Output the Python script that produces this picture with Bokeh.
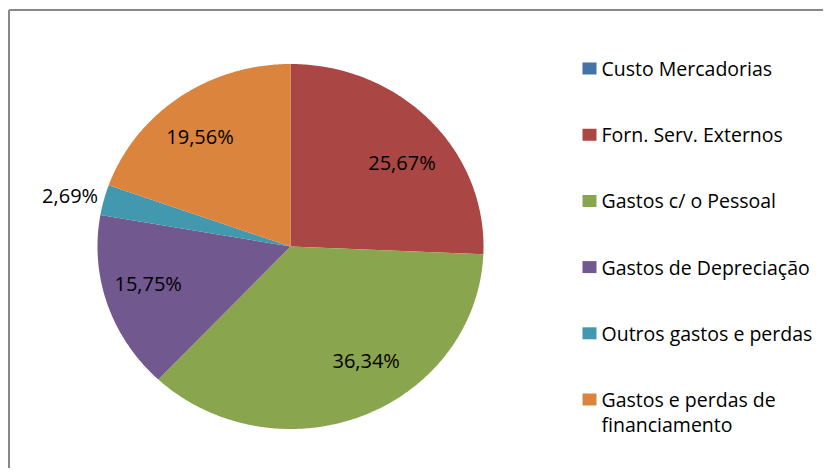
import textwrap
import numpy as np
from bokeh.plotting import figure
from bokeh.models import Range1d
from bokeh.core.properties import value
from bokeh.embed import file_html
from bokeh.resources import INLINE

# ---- data ----
categories = ["Custo Mercadorias", "Forn. Serv. Externos", "Gastos c/ o Pessoal",
              "Gastos de Depreciação", "Outros gastos e perdas",
              "Gastos e perdas de financiamento"]
shares = [0.00, 25.67, 36.34, 15.75, 2.69, 19.56]
labels = ["", "25,67%", "36,34%", "15,75%", "2,69%", "19,56%"]

# ---- style ----
colors = ["#4572A7", "#AA4643", "#89A54E", "#71588F", "#4198AF", "#DB843D"]
label_radius = [0.75, 0.75, 0.75, 0.75, 1.17, 0.75]
label_nudge = [(0, 0), (7, -11), (21, 13), (-5, 6), (-2, -3), (-7, -2)]
FONT = "Open Sans"

W, H = 823, 468
p = figure(width=W, height=H, output_backend="svg", toolbar_location=None,
           x_range=Range1d(0, W), y_range=Range1d(0, H), min_border=0)
p.axis.visible = False
p.grid.visible = False
p.outline_line_color = None
p.background_fill_color = "white"
p.border_fill_color = "white"

# chart-area frame (only its top and left edges fall inside the crop)
fx, fy = 8.5, H - 9.5
p.segment(x0=[fx, fx], y0=[-5, fy], x1=[fx, W + 5], y1=[fy, fy],
          line_color="#878787", line_width=2)

# pie (slightly elliptical, as in the reference)
cx, cy, rx, ry = 290, 222, 193, 182.5
vals = np.array(shares, dtype=float)
fr = vals / vals.sum()
ends = np.pi / 2 - 2 * np.pi * np.cumsum(fr)
starts = np.concatenate([[np.pi / 2], ends[:-1]])
xs, ys = [], []
for a0, a1 in zip(starts, ends):
    n = max(2, int(abs(a0 - a1) * 90))
    t = np.linspace(a0, a1, n)
    xs.append(np.concatenate([[cx], cx + rx * np.cos(t), [cx]]))
    ys.append(np.concatenate([[cy], cy + ry * np.sin(t), [cy]]))
keep = [i for i in range(len(vals)) if vals[i] > 0]
p.patches(xs=[xs[i] for i in keep], ys=[ys[i] for i in keep],
          fill_color=[colors[i] for i in keep], line_color=None)

# data labels
mids = (starts + ends) / 2
lx, ly, lt = [], [], []
for i in keep:
    lx.append(cx + label_radius[i] * rx * np.cos(mids[i]) + label_nudge[i][0])
    ly.append(cy + label_radius[i] * ry * np.sin(mids[i]) + label_nudge[i][1])
    lt.append(labels[i])
p.text(x=lx, y=ly, text=lt, text_align="center", text_baseline="middle",
       text_font=value(FONT), text_font_size="20px", text_color="#000000")

# legend
leg_x, leg_top, leg_step, line_step = 582, H - 68, 66.2, 25
sq_x, sq_y, tx, ty, tt = [], [], [], [], []
for i, c in enumerate(categories):
    row_y = leg_top - i * leg_step
    sq_x.append(leg_x + 7)
    sq_y.append(row_y)
    for j, line in enumerate(textwrap.wrap(c, 22)):
        tx.append(leg_x + 19)
        ty.append(row_y - j * line_step)
        tt.append(line)
p.rect(x=sq_x, y=sq_y, width=14, height=12, fill_color=colors, line_color=None)
p.text(x=tx, y=ty, text=tt, text_align="left", text_baseline="middle",
       text_font=value(FONT), text_font_size="19.5px", text_color="#000000")

open("out.html", "w").write(file_html(p, INLINE))
